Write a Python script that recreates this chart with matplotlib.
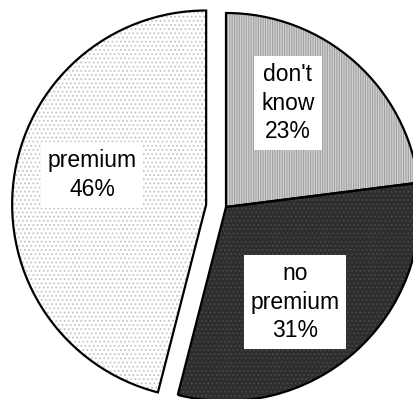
import matplotlib.pyplot as plt

# data (clockwise from 12 o'clock)
labels = ["don't\nknow\n23%", "no\npremium\n31%", "premium\n46%"]
shares = [23, 31, 46]
pulled = [False, False, True]

face_cols = ['#d2d2d2', '#2e2e2e', '#ffffff']
hatch_cols = ['#a0a0a0', '#474747', '#c4c4c4']
hatches = ['|||||||', '....', '....']

plt.rcParams['font.family'] = ['Liberation Sans', 'DejaVu Sans']
plt.rcParams['hatch.linewidth'] = 0.8

fig = plt.figure(figsize=(4.13, 3.99), dpi=100)
ax = fig.add_axes([0, 0, 1, 1])

center = (226, 192)
radius = 194
# pie() takes explode in data units, not as a fraction of radius
explode = [20 if p else 0 for p in pulled]

# fill + texture
wedges, _ = ax.pie(shares, explode=explode, center=center, radius=radius,
                   startangle=90, counterclock=False, frame=True,
                   wedgeprops=dict(linewidth=0))
for w, fc, hc, h in zip(wedges, face_cols, hatch_cols, hatches):
    w.set_facecolor(fc)
    w.set_edgecolor(hc)
    w.set_hatch(h)

# black outlines
ax.pie(shares, explode=explode, center=center, radius=radius,
       startangle=90, counterclock=False, frame=True,
       wedgeprops=dict(facecolor='none', edgecolor='black', linewidth=1.6))
ax.set_xlim(0, 413)
ax.set_ylim(0, 399)
ax.set_aspect('equal')
ax.axis('off')

label_pos = [(288, 296), (295, 97), (92, 224)]
for txt, (x, y) in zip(labels, label_pos):
    ax.text(x, y, txt, ha='center', va='center', fontsize=16.5,
            linespacing=1.32,
            bbox=dict(boxstyle='square,pad=0.3', facecolor='white', edgecolor='none'))

fig.savefig('out.png', dpi=100)
